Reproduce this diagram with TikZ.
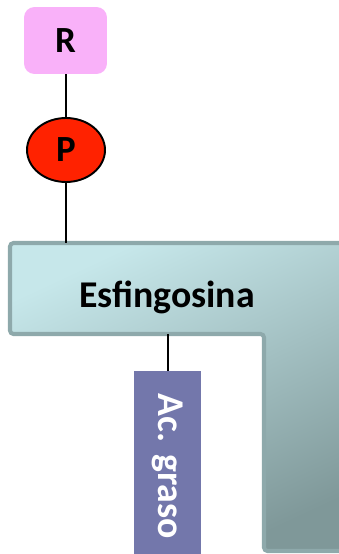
\documentclass[tikz,border=0pt]{standalone}
\usepackage{fontspec}
\setmainfont{Carlito}
\usepackage{xcolor}
\usetikzlibrary{shapes,positioning,calc}

\definecolor{rpink}{HTML}{F9B1F9}
\definecolor{pred}{HTML}{FF2200}
\definecolor{esfedge}{HTML}{8EA9AB}
\definecolor{esftop}{HTML}{C6E7EA}
\definecolor{esfbot}{HTML}{7F9899}
\definecolor{acblue}{HTML}{7377AB}

\tikzset{
  link/.style={line width=1.2pt, black},
  rbox/.style={rectangle, rounded corners=6pt, fill=rpink, minimum width=1.66cm, minimum height=1.34cm, font=\bfseries\fontsize{21}{21}\selectfont},
  pball/.style={ellipse, draw=black, line width=1.1pt, fill=pred, minimum width=1.56cm, minimum height=1.28cm, inner sep=0pt, font=\bfseries\fontsize{21}{21}\selectfont},
  acbox/.style={rectangle, fill=acblue, text=white, minimum width=3.8cm, minimum height=1.34cm, rotate=-90, font=\bfseries\fontsize{21.5}{21.5}\selectfont}
}

\begin{document}
\begin{tikzpicture}[x=0.02cm, y=-0.02cm]
        \useasboundingbox (0,0) rectangle (338,554);

        % Esfingosina (L shape)
        \shade[top color=esftop, bottom color=esfbot, shading angle=25, draw=esfedge, line width=2.3pt, rounded corners=2pt]
          (10,243) -- (350,243) -- (350,551) -- (264,551) -- (264,334) -- (10,334) -- cycle;
        \node[font=\bfseries\fontsize{21.5}{21.5}\selectfont] (esf) at (167,297) {Esfingosina};
        \coordinate (esftop) at (68,243);
        \coordinate (esfbot) at (168,334);

        % Ac. graso
        \node[acbox, anchor=west] (ac) at (167.5,371) {Ac. graso};

        % R and P
        \node[rbox] (r) at (65.5,40.5) {R};
        \node[pball] (p) at (66,150) {P};

        % links
        \draw[link] (r.south -| p.north) -- (p.north);
        \draw[link] (p.south) -- (p.south |- esftop);
        \draw[link] (esfbot) -- (esfbot |- ac.west);
\end{tikzpicture}
\end{document}
